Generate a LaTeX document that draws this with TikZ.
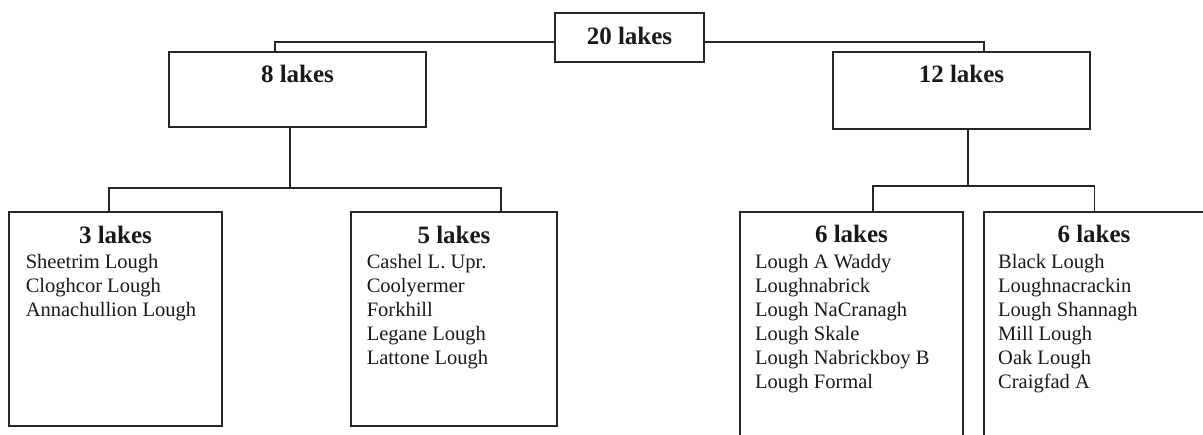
\documentclass[tikz,border=0pt]{standalone}
\usepackage{fontspec}
\setmainfont{Liberation Serif}
\begin{document}
\begin{tikzpicture}[x=1pt,y=-1pt,
  box/.style={draw=black!85, line width=1.2pt, rectangle, anchor=north west, inner sep=0pt, outer sep=0pt},
  title/.style={anchor=base, inner sep=0pt, font=\fontsize{25}{30}\selectfont\bfseries, text=black!90},
  item/.style={anchor=base west, inner sep=0pt, font=\fontsize{20.5}{24}\selectfont, text=black!90},
  wire/.style={draw=black!85, line width=1.2pt}]
\useasboundingbox (0,0) rectangle (1203,435);
\clip (0,0) rectangle (1203,435);
% boxes
\node[box, minimum width=149pt, minimum height=49pt] (t20) at (555,13) {};
\node[box, minimum width=257pt, minimum height=75pt] (n8) at (169,52) {};
\node[box, minimum width=257pt, minimum height=77pt] (n12) at (833,52) {};
\node[box, minimum width=213pt, minimum height=214pt] (b3) at (9,212) {};
\node[box, minimum width=206pt, minimum height=214pt] (b5) at (351,212) {};
\node[box, minimum width=223pt, minimum height=240pt] (b6a) at (740,212) {};
\node[box, minimum width=220.5pt, minimum height=240pt] (b6b) at (984,212) {};
% titles
\node[title] (h20) at (629.5,45) {20 lakes};
\node[title] (h8) at (297.5,83) {8 lakes};
\node[title] (h12) at (961.5,83) {12 lakes};
\node[title] (h3) at (115.5,244) {3 lakes};
\node[title] (h5) at (454,244) {5 lakes};
\node[title] (h6a) at (851.5,243) {6 lakes};
\node[title] (h6b) at (1094,243) {6 lakes};
% lists
\foreach \t [count=\i] in {Sheetrim Lough, Cloghcor Lough, Annachullion Lough}
  \node[item] (la\i) at (25.6,245+24*\i) {\t};
\foreach \t [count=\i] in {Cashel L. Upr., Coolyermer, Forkhill, Legane Lough, Lattone Lough}
  \node[item] (lb\i) at (366.6,245+24*\i) {\t};
\foreach \t [count=\i] in {Lough A Waddy, Loughnabrick, Lough NaCranagh, Lough Skale, Lough Nabrickboy B, Lough Formal}
  \node[item] (lc\i) at (755,245+24*\i) {\t};
\foreach \t [count=\i] in {Black Lough, Loughnacrackin, Lough Shannagh, Mill Lough, Oak Lough, Craigfad A}
  \node[item] (ld\i) at (998,245+24*\i) {\t};
% connectors
\coordinate (j8) at (290,188);
\coordinate (j12) at (968,186);
\draw[wire] ([yshift=-4.5pt]t20.west) -| ([xshift=-22.5pt]n8.north);
\draw[wire] ([yshift=-4.5pt]t20.east) -| ([xshift=22.5pt]n12.north);
\draw[wire] ([xshift=-7.5pt]n8.south) -- (j8);
\draw[wire] ([xshift=-6.5pt]b3.north) |- (j8) -| ([xshift=47pt]b5.north);
\draw[wire] ([xshift=6.5pt]n12.south) -- (j12);
\draw[wire] ([xshift=21.5pt]b6a.north) |- (j12) -| (b6b.north);
\end{tikzpicture}
\end{document}
